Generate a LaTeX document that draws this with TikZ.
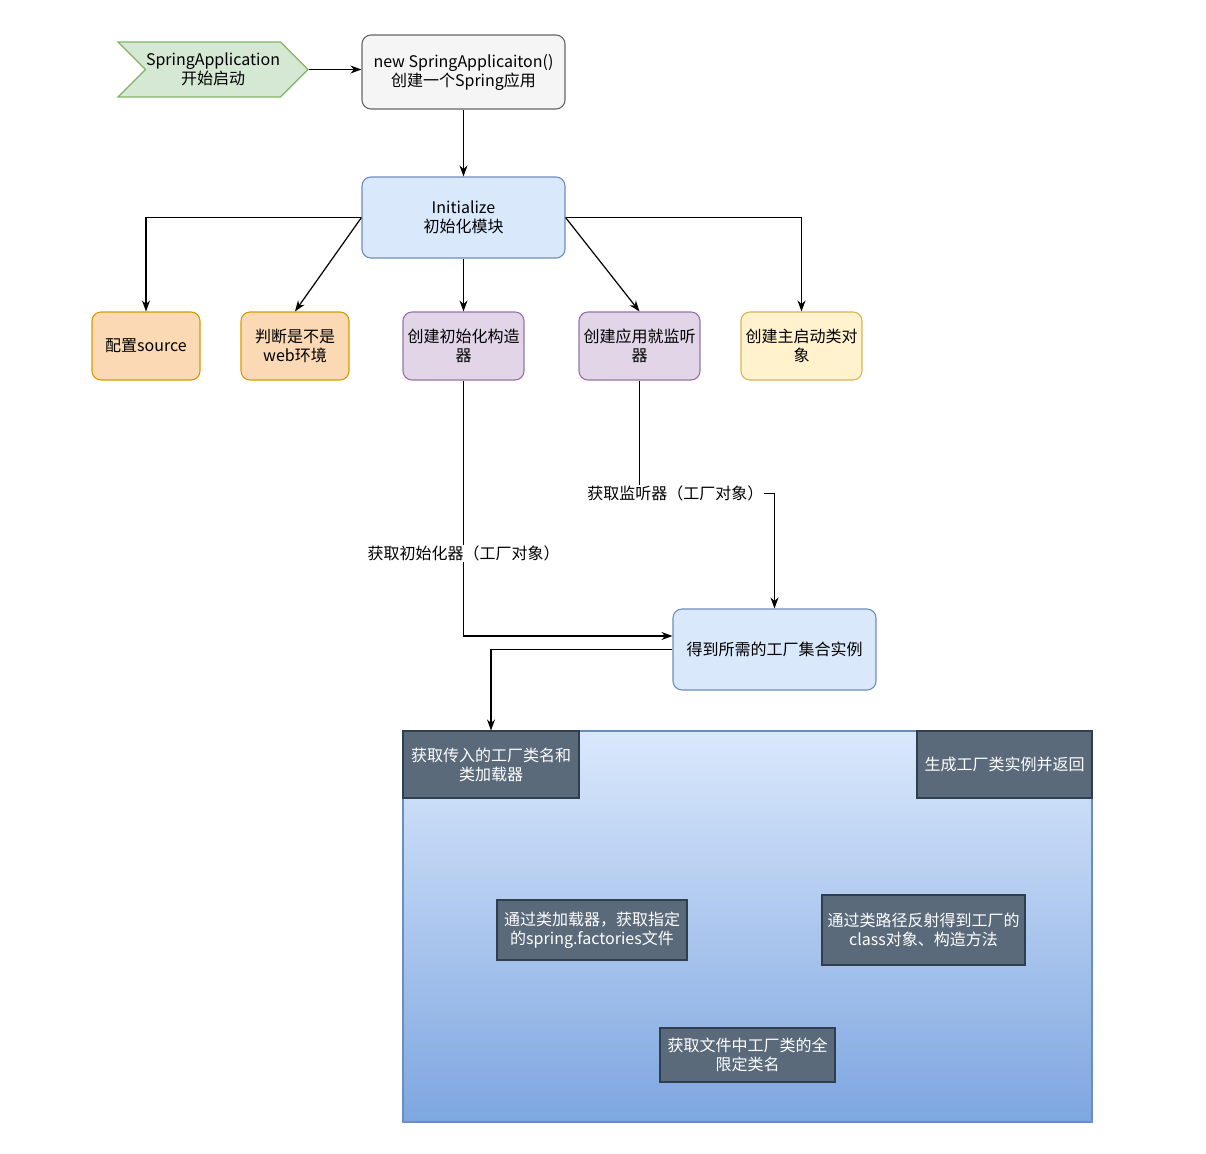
\documentclass[tikz,border=0pt]{standalone}
\usepackage{fontspec}
\setmainfont{Noto Sans CJK SC}
\usetikzlibrary{shapes.symbols,arrows.meta}
\definecolor{gfill}{HTML}{D5E8D4}\definecolor{gline}{HTML}{82B366}
\definecolor{hfill}{HTML}{F5F5F5}\definecolor{hline}{HTML}{666666}
\definecolor{bfill}{HTML}{DAE8FC}\definecolor{bline}{HTML}{6C8EBF}
\definecolor{ofill}{HTML}{FAD9B4}\definecolor{oline}{HTML}{D79B00}
\definecolor{pfill}{HTML}{E1D5E7}\definecolor{pline}{HTML}{9673A6}
\definecolor{yfill}{HTML}{FFF2CC}\definecolor{yline}{HTML}{D6B656}
\definecolor{dfill}{HTML}{5A6A7B}\definecolor{dline}{HTML}{2F3F50}
\definecolor{bdark}{HTML}{7EA6E0}
\tikzset{
  base/.style={draw, line width=1.1bp, align=center, inner sep=1bp,
    font=\fontsize{16bp}{19bp}\selectfont},
  rbox/.style={base, rounded corners=9bp},
  dbox/.style={base, fill=dfill, draw=dline, text=white},
  conn/.style={line width=1.2bp, -{Stealth[length=11bp,width=8bp]}},
  lbl/.style={fill=white, inner sep=1bp, font=\fontsize{16bp}{19bp}\selectfont},
}
\begin{document}
\begin{tikzpicture}[x=1bp,y=-1bp]
\useasboundingbox (0,0) rectangle (1206,1154);
\node[base, shape=signal, signal from=west, signal to=east, fill=gfill, draw=gline,
  minimum width=190bp, minimum height=55bp, inner sep=0pt] (start) at (213,69.5) {SpringApplication\\开始启动};
\node[rbox, fill=hfill, draw=hline, minimum width=203bp, minimum height=74bp] (newapp) at (463.5,72) {new SpringApplicaiton()\\创建一个Spring应用};
\node[rbox, fill=bfill, draw=bline, minimum width=203bp, minimum height=81bp] (init) at (463.5,217.5) {Initialize\\初始化模块};
\node[rbox, fill=ofill, draw=oline, minimum width=108bp, minimum height=68bp] (src) at (146,346) {配置source};
\node[rbox, fill=ofill, draw=oline, minimum width=108bp, minimum height=68bp] (web) at (295,346) {判断是不是\\web环境};
\node[rbox, fill=pfill, draw=pline, minimum width=121bp, minimum height=68bp] (initr) at (463.5,346) {创建初始化构造\\器};
\node[rbox, fill=pfill, draw=pline, minimum width=121bp, minimum height=68bp] (lsn) at (639.5,346) {创建应用就监听\\器};
\node[rbox, fill=yfill, draw=yline, minimum width=121bp, minimum height=68bp] (mainc) at (801.5,346) {创建主启动类对\\象};
\node[rbox, fill=bfill, draw=bline, minimum width=203bp, minimum height=81bp] (get) at (774.5,649.5) {得到所需的工厂集合实例};
\node[draw=bline, line width=1.1bp, top color=bfill, bottom color=bdark, minimum width=689bp, minimum height=391bp, inner sep=0pt] (big) at (747.5,926.5) {};
\node[dbox, minimum width=176bp, minimum height=67bp] (d1) at (491,764.5) {获取传入的工厂类名和\\类加载器};
\node[dbox, minimum width=175bp, minimum height=67bp] (d2) at (1004.5,764.5) {生成工厂类实例并返回};
\node[dbox, minimum width=190bp, minimum height=60bp] (d3) at (592,930) {通过类加载器，获取指定\\的spring.factories文件};
\node[dbox, minimum width=203bp, minimum height=70bp] (d4) at (923.5,930) {通过类路径反射得到工厂的\\class对象、构造方法};
\node[dbox, minimum width=175bp, minimum height=54bp] (d5) at (747.5,1055) {获取文件中工厂类的全\\限定类名};

\draw[conn] (start.east) -- (start.east -| newapp.west);
\draw[conn] (newapp.south) -- (init.north);
\draw[conn] (init.west) -| (src.north);
\draw[conn] (init.west) -- (web.north);
\draw[conn] (init.south) -- (initr.north);
\draw[conn] (init.east) -- (lsn.north);
\draw[conn] (init.east) -| (mainc.north);
\draw[conn] (initr.south) |- node[lbl, pos=0.338] {获取初始化器（工厂对象）} ([yshift=13.5bp]get.west);
\draw[conn] (lsn.south) -- ++(0,113) -| node[lbl, pos=0.133] {获取监听器（工厂对象）} (get.north);
\draw[conn] (get.west) -| (d1.north);
\end{tikzpicture}
\end{document}
